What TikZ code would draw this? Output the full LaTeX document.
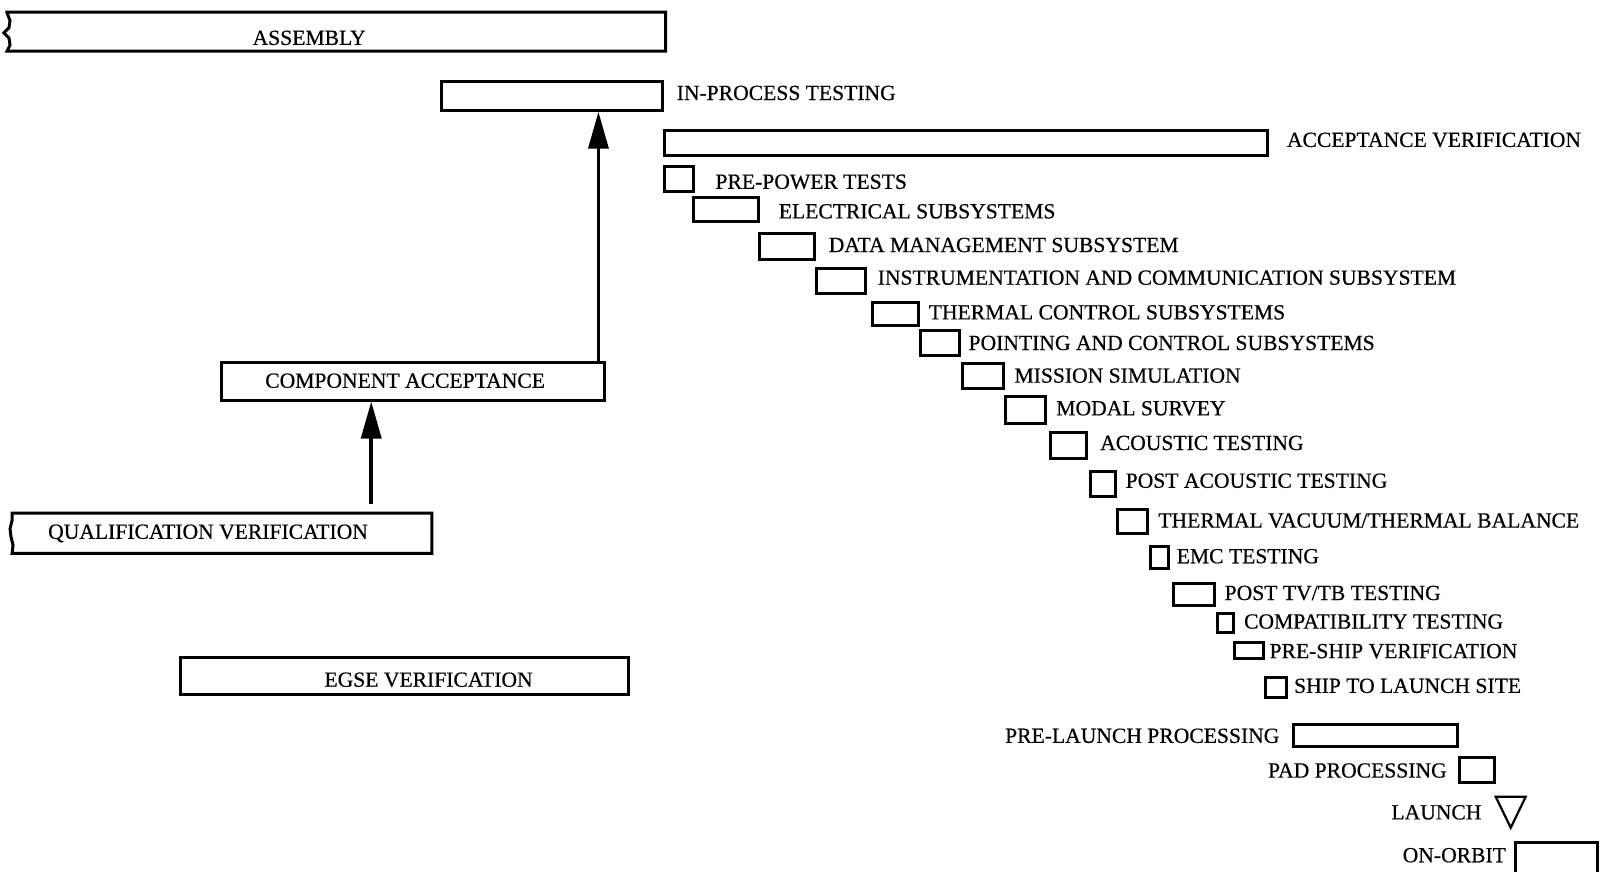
\documentclass[tikz,border=0pt]{standalone}
\usepackage{fontspec}
\setmainfont{Liberation Serif}[FakeBold=0.5]
\usetikzlibrary{fit,calc,arrows.meta}

\begin{document}
\begin{tikzpicture}[x=1.0204pt,y=-1.0204pt,
  bar/.style={draw,line width=3pt,inner sep=0pt,fit={#1}},
  frame/.style={inner sep=0pt,fit={#1}},
  edge/.style={line width=3pt,line join=miter},
  lbl/.style={inner sep=0pt,font=\fontsize{21.6}{24}\selectfont},
  arr/.style={line width=3.6pt,-{Triangle[length=37pt,width=20pt]}},
  thinedge/.style={line width=2.2pt,line join=miter}]

\useasboundingbox (0,0) rectangle (1568,854);

% left-hand column: assembly and verification levels
\node[frame={(7,12) (652,50)}] (asm) {};
\draw[edge] (asm.north west) -- (asm.north east) -- (asm.south east) -- (asm.south west)
  -- ++(3,-6) -- ++(-1,-7) -- ++(-5,-5) -- ++(5,-5) -- ++(1,-7) -- ++(-3,-8) -- cycle;
\node[lbl,anchor=base] (asmt) at (303,44) {ASSEMBLY};

\node[bar={(433,80) (649,108)}] (inproc) {};
\node[lbl,anchor=base west] (inprocl) at (663,98) {IN-PROCESS TESTING};

\node[bar={(217,355) (592,392)}] (comp) {};
\node[lbl,anchor=base] (compt) at (397,380) {COMPONENT ACCEPTANCE};

\node[frame={(12,503) (423,542)}] (qual) {};
\draw[edge] (qual.north west) -- (qual.north east) -- (qual.south east) -- (qual.south west)
  -- ++(1,-8) -- ++(-2,-8) -- ++(-1,-8) -- ++(2,-8) -- ++(0,-7) -- cycle;
\node[lbl,anchor=base west] (qualt) at (47,528) {QUALIFICATION VERIFICATION};

\node[bar={(177,644) (616,681)}] (egse) {};
\node[lbl,anchor=base] (egset) at (420,673) {EGSE VERIFICATION};

% flow arrows
\draw[arr] ($(comp.north east)+(-7,0)$) coordinate (a1) -- (a1 |- inproc.south);
\draw[arr] ($(qual.north west)+(352,-9)$) coordinate (a2) -- (a2 |- comp.south);

% acceptance verification sequence
\node[bar={(651,128) (1242,152)}] (av) {};
\node[lbl,anchor=base west] (avl) at (1261,144) {ACCEPTANCE VERIFICATION};

\node[bar={(651,163) (680,188)}] (pp) {};
\node[lbl,anchor=base west] (ppl) at (701,185) {PRE-POWER TESTS};

\node[bar={(680,194) (743,217)}] (el) {};
\node[lbl,anchor=base west] (ell) at (763,214) {ELECTRICAL SUBSYSTEMS};

\node[bar={(744,229) (798,254)}] (dm) {};
\node[lbl,anchor=base west] (dml) at (812,247) {DATA MANAGEMENT SUBSYSTEM};

\node[bar={(800,263) (848,288)}] (ic) {};
\node[lbl,anchor=base west] (icl) at (860,279) {INSTRUMENTATION AND COMMUNICATION SUBSYSTEM};

\node[bar={(855,296) (900,319)}] (tc) {};
\node[lbl,anchor=base west] (tcl) at (910,313) {THERMAL CONTROL SUBSYSTEMS};

\node[bar={(902,324) (940,348)}] (pc) {};
\node[lbl,anchor=base west] (pcl) at (949,343) {POINTING AND CONTROL SUBSYSTEMS};

\node[bar={(943,356) (983,381)}] (ms) {};
\node[lbl,anchor=base west] (msl) at (994,375) {MISSION SIMULATION};

\node[bar={(985,389) (1025,415)}] (mo) {};
\node[lbl,anchor=base west] (mol) at (1035,407) {MODAL SURVEY};

\node[bar={(1029,424) (1065,449)}] (ac) {};
\node[lbl,anchor=base west] (acl) at (1078,441) {ACOUSTIC TESTING};

\node[bar={(1069,462) (1093,487)}] (pa) {};
\node[lbl,anchor=base west] (pal) at (1103,478) {POST ACOUSTIC TESTING};

\node[bar={(1095,499) (1125,523)}] (tv) {};
\node[lbl,anchor=base west] (tvl) at (1135,517) {THERMAL VACUUM/THERMAL BALANCE};

\node[bar={(1127,536) (1145,557)}] (emc) {};
\node[lbl,anchor=base west] (emcl) at (1153,552) {EMC TESTING};

\node[bar={(1150,572) (1190,593)}] (ptv) {};
\node[lbl,anchor=base west] (ptvl) at (1200,588) {POST TV/TB TESTING};

\node[bar={(1193,601) (1209,620)}] (ct) {};
\node[lbl,anchor=base west] (ctl) at (1219,616) {COMPATIBILITY TESTING};

\node[bar={(1210,630) (1238,645)}] (ps) {};
\node[lbl,anchor=base west] (psl) at (1244,645) {PRE-SHIP VERIFICATION};

\node[bar={(1240,664) (1261,684)}] (sh) {};
\node[lbl,anchor=base west] (shl) at (1268,679) {SHIP TO LAUNCH SITE};

% launch campaign
\node[bar={(1268,710) (1428,732)}] (pl) {};
\node[lbl,anchor=base east] (pll) at (1254,728) {PRE-LAUNCH PROCESSING};

\node[bar={(1430,742) (1465,767)}] (pad) {};
\node[lbl,anchor=base east] (padl) at (1418,762) {PAD PROCESSING};

\node[frame={(1466,781) (1495,811)}] (lau) {};
\draw[thinedge] (lau.north west) -- (lau.north east) -- (lau.south) -- cycle;
\node[lbl,anchor=base east] (laul) at (1452,803) {LAUNCH};

\node[bar={(1485,826) (1566,862)}] (orb) {};
\node[lbl,anchor=base east] (orbl) at (1476,845) {ON-ORBIT};

\end{tikzpicture}
\end{document}
